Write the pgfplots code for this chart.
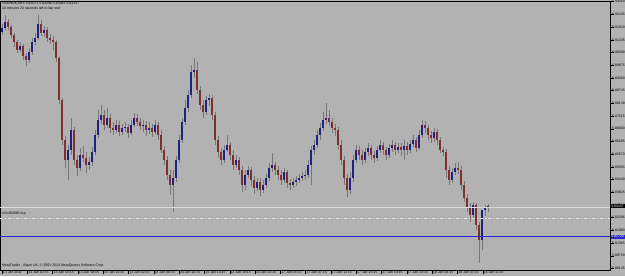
\documentclass[border=0pt]{standalone}
\usepackage{pgfplots}
\pgfplotsset{compat=1.18}
\usepackage{pgfplotstable}
\usetikzlibrary{backgrounds}
\usepackage{fontspec}
\setmainfont{Liberation Sans}
\definecolor{bg}{HTML}{B2B2B2}
\definecolor{wick}{HTML}{787878}
\definecolor{upc}{HTML}{22227E}
\definecolor{dnc}{HTML}{7E3030}
\definecolor{bidc}{HTML}{DCDCDC}
\definecolor{ordc}{HTML}{E4E4E4}
\definecolor{bluel}{HTML}{2828D0}
\newcommand\mtfont{\fontsize{3.5}{4}\selectfont}
% x = bar position, o/h/l/c = open, high, low, close read as vertical positions (top = 1)
\pgfplotstableread{
x o h l c
2 32 24 35 28
5 28 15 30 22
8 22 19 30 27
11 27 25 38 35
14 35 33 47 42
17 42 40 53 50
20 50 42 52 46
23 46 44 60 56
26 56 53 66 60
29 60 48 63 52
32 52 38 55 42
35 42 33 45 38
38 38 15 40 24
41 24 20 36 33
44 33 26 37 30
47 30 27 42 38
50 38 34 44 40
53 40 36 50 42
56 42 40 62 58
59 58 56 104 100
62 100 98 145 140
65 140 136 168 160
68 160 145 180 150
71 150 118 155 130
74 130 127 165 160
77 160 155 176 168
80 168 148 171 155
83 155 146 162 158
86 158 152 173 165
89 165 157 170 162
92 162 147 166 152
95 152 130 155 135
98 135 110 138 120
101 120 105 124 115
104 115 110 130 125
107 125 108 128 118
110 118 114 133 128
113 128 122 135 130
116 130 120 133 125
119 125 121 136 132
122 132 124 135 128
125 128 122 132 127
128 127 124 138 133
131 133 120 135 125
134 125 113 127 118
137 118 114 126 122
140 122 118 130 126
143 126 120 132 125
146 125 121 136 130
149 130 122 134 128
152 128 124 137 132
155 132 120 134 125
158 125 122 140 135
161 135 130 153 150
164 150 146 165 160
167 160 156 180 175
170 175 170 195 185
173 185 170 212 178
176 178 156 182 160
179 160 135 163 140
182 140 118 143 122
185 122 100 125 108
188 108 90 112 95
191 95 65 98 72
194 72 58 78 70
197 70 62 94 90
200 90 86 110 105
203 105 100 118 112
206 112 96 115 100
209 100 94 106 98
212 98 95 120 115
215 115 112 145 140
218 140 136 158 152
221 152 148 165 160
224 160 145 163 150
227 150 135 152 145
230 145 142 160 155
233 155 150 170 165
236 165 155 168 160
239 160 157 175 170
242 170 166 192 185
245 185 170 190 175
248 175 166 178 170
251 170 167 186 180
254 180 176 194 188
257 188 178 191 182
260 182 178 196 190
263 190 180 193 185
266 185 174 188 178
269 178 163 181 168
272 168 153 172 165
275 165 162 175 170
278 170 166 180 175
281 175 170 185 180
284 180 168 183 172
287 172 170 188 183
290 183 179 190 185
293 185 178 188 182
296 182 176 186 180
299 180 174 183 178
302 178 172 181 176
305 176 170 180 175
308 175 160 178 165
311 165 146 185 150
314 150 140 155 145
317 145 130 148 135
320 135 123 140 128
323 128 112 131 120
326 120 103 124 118
329 118 110 126 122
332 122 118 133 128
335 128 124 136 130
338 130 127 150 145
341 145 140 165 160
344 160 156 185 178
347 178 174 197 190
350 190 172 194 178
353 178 155 182 160
356 160 145 163 150
359 150 146 160 155
362 155 150 165 160
365 160 148 163 152
368 152 143 156 148
371 148 145 160 155
374 155 151 163 158
377 158 146 161 150
380 150 140 153 145
383 145 142 155 150
386 150 147 160 155
389 155 144 158 148
392 148 140 152 145
395 145 142 155 150
398 150 143 153 147
401 147 143 156 150
404 150 140 160 146
407 146 142 155 150
410 150 140 153 144
413 144 135 147 140
416 140 137 152 148
419 148 130 150 135
422 135 120 138 125
425 125 121 133 128
428 128 125 140 135
431 135 131 143 138
434 138 128 142 132
437 132 129 145 140
440 140 137 153 150
443 150 147 156 152
446 152 149 178 170
449 170 166 185 180
452 180 168 183 172
455 172 163 175 168
458 168 162 174 170
461 170 166 190 185
464 185 181 202 198
467 198 194 212 208
470 208 203 222 215
473 215 202 218 205
476 205 203 230 225
479 225 222 263 240
482 240 222 250 210
485 210 205 216 207
488 207 204 212 206
}\candles

\begin{document}
\begin{tikzpicture}
\begin{axis}[
  scale only axis, width=610bp, height=269bp,
  xmin=0, xmax=610, ymin=1, ymax=270, y dir=reverse,
  clip=false,
  axis background/.style={fill=bg},
  axis line style={black, line width=0.6bp},
  tick align=outside, major tick length=3.5bp,
  tick style={black, line width=0.4bp},
  xtick pos=bottom, ytick pos=right, yticklabel pos=right,
  xtick={2,27.3,52.6,77.9,103.2,128.5,153.8,179.1,204.4,229.7,255,280.3,305.6,330.9,356.2,381.5,406.8,432.1,457.4,482.7},
  xticklabels={13 Jan 2011,13 Jan 10:15,13 Jan 14:15,13 Jan 18:15,13 Jan 22:15,14 Jan 02:15,14 Jan 06:15,14 Jan 10:15,14 Jan 14:15,14 Jan 18:15,14 Jan 22:15,17 Jan 03:15,17 Jan 07:15,17 Jan 11:15,17 Jan 15:15,17 Jan 19:15,17 Jan 23:15,18 Jan 03:15,18 Jan 07:15,18 Jan 11:15},
  ytick={1.7,14.4,27.1,39.8,52.5,65.2,77.9,90.6,103.3,116,128.7,141.4,154.1,166.8,179.5,192.2,204.9,217.6,230.3,243,255.7,268.4},
  yticklabels={5.93050,5.92435,5.91820,5.91205,5.90590,5.89975,5.89360,5.88745,5.88130,5.87515,5.86900,5.86285,5.85670,5.85055,5.84440,5.83825,5.83210,5.82595,5.81980,5.81365,5.80750,5.80135},
  xticklabel style={font=\mtfont, anchor=north west, inner sep=0pt, xshift=0.8bp, yshift=3bp},
  yticklabel style={font=\mtfont, anchor=west, inner sep=0pt, xshift=-1.5bp},
]
% wicks
\addplot[draw=wick, line width=0.7bp, -, quiver={u=0, v=\thisrow{l}-\thisrow{h}}] table[x=x, y=h] {\candles};
% bullish bodies
\addplot[draw=upc, line width=1.4bp, -, quiver={u=0, v=\thisrow{o}-\thisrow{c}},
  x filter/.expression={\thisrow{c}<\thisrow{o} ? x : nan}] table[x=x, y=c] {\candles};
% bearish bodies
\addplot[draw=dnc, line width=1.4bp, -, quiver={u=0, v=\thisrow{c}-\thisrow{o}},
  x filter/.expression={\thisrow{c}>\thisrow{o} ? x : nan}] table[x=x, y=o] {\candles};
% price lines
\addplot[bidc, line width=1.1bp] coordinates {(0,207.5) (610,207.5)};
\addplot[ordc, line width=0.8bp, dash pattern=on 3bp off 2bp on 1bp off 2bp] coordinates {(0,218) (610,218)};
\addplot[bluel, line width=1.5bp] coordinates {(0,236.7) (610,236.7)};
% texts
\node[anchor=west, inner sep=0pt, font=\mtfont] at (axis cs:2,4) {USDNOK,M15  5.83071 5.83296 5.83063 5.83157};
\node[anchor=west, inner sep=0pt, font=\mtfont] at (axis cs:2,8.3) {10 minutes 23 seconds left to bar end};
\node[anchor=west, inner sep=0pt, font=\mtfont] at (axis cs:2,214) {\#31460995 buy};
\node[anchor=west, inner sep=0pt, font=\mtfont] at (axis cs:2,266) {MetaTrader - Alpari UK, © 2001-2010 MetaQuotes Software Corp.};
\node[anchor=west, fill=black, text=white, inner xsep=0.6bp, inner ysep=0.8bp, font=\mtfont] at (axis cs:610.5,206) {5.83157};
\node[anchor=west, fill=bluel, text=white, inner xsep=0.6bp, inner ysep=0.8bp, font=\mtfont] at (axis cs:610.5,236.7) {5.81720};
\coordinate (bl) at (axis cs:0,276);
\coordinate (tr) at (axis cs:625,0);
\end{axis}
\begin{scope}[on background layer]
\fill[bg] (bl) rectangle (tr);
\end{scope}
\pgfresetboundingbox
\useasboundingbox (bl) rectangle (tr);
\end{tikzpicture}
\end{document}
